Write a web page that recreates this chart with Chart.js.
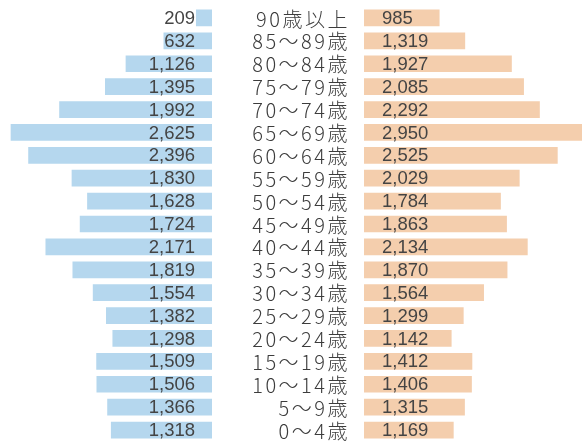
<!DOCTYPE html>
<html lang="ja">
<head>
    <meta charset="UTF-8">
    <title>人口ピラミッド</title>
    <style>
        body{
            margin: 0;
            background-color: #ffffff;
        }
        .wrap{
            position: relative;
            width: 582px;
            height: 444px;
            overflow: hidden;
        }
        #chartL{
            position: absolute;
            left: 0;
            top: 0;
        }
        #chartR{
            position: absolute;
            left: 364px;
            top: 0;
        }
    </style>
</head>
<body>
    <div class="wrap">
        <canvas id="chartL" width="364" height="444" style="width:364px;height:444px"></canvas>
        <canvas id="chartR" width="218" height="444" style="width:218px;height:444px"></canvas>
    </div>

    <script src="https://cdn.jsdelivr.net/npm/chart.js"></script>
    <script>
        // age groups, top to bottom
        const ages = ['90歳以上', '85～89歳', '80～84歳', '75～79歳', '70～74歳', '65～69歳', '60～64歳',
            '55～59歳', '50～54歳', '45～49歳', '40～44歳', '35～39歳', '30～34歳', '25～29歳',
            '20～24歳', '15～19歳', '10～14歳', '5～9歳', '0～4歳'];
        const male = [209, 632, 1126, 1395, 1992, 2625, 2396, 1830, 1628, 1724, 2171, 1819, 1554, 1382, 1298, 1509, 1506, 1366, 1318];
        const female = [985, 1319, 1927, 2085, 2292, 2950, 2525, 2029, 1784, 1863, 2134, 1870, 1564, 1299, 1142, 1412, 1406, 1315, 1169];

        const fmt = v => v.toLocaleString('en-US');

        // value text inside each bar, near the centre gap
        const valueLabels = {
            id: 'valueLabels',
            afterDatasetsDraw(chart, args, opts) {
                const ctx = chart.ctx;
                const meta = chart.getDatasetMeta(0);
                const data = chart.data.datasets[0].data;
                ctx.save();
                ctx.font = '18.5px "Liberation Sans", Arial, sans-serif';
                ctx.fillStyle = '#444444';
                ctx.textBaseline = 'middle';
                ctx.textAlign = opts.side === 'left' ? 'right' : 'left';
                meta.data.forEach((bar, i) => {
                    const x = opts.side === 'left' ? bar.base - 17 : bar.base + 18;
                    ctx.fillText(fmt(data[i]), x, bar.y + 1);
                });
                ctx.restore();
            }
        };

        // age labels in the middle column
        const ageLabels = {
            id: 'ageLabels',
            afterDraw(chart) {
                const ctx = chart.ctx;
                const y = chart.scales.y;
                ctx.save();
                ctx.font = '300 20px "Noto Sans CJK JP", sans-serif';
                ctx.letterSpacing = '2.5px';
                ctx.fillStyle = '#3c3c3c';
                ctx.textAlign = 'right';
                ctx.textBaseline = 'middle';
                ages.forEach((a, i) => {
                    ctx.fillText(a, 350, y.getPixelForValue(i) + 1);
                });
                ctx.restore();
            }
        };

        const common = {
            indexAxis: 'y',
            animation: false,
            responsive: false,
            plugins: {
                legend: { display: false },
                tooltip: { enabled: false }
            }
        };

        const chartL = new Chart(document.getElementById('chartL'), {
            type: 'bar',
            data: {
                labels: ages,
                datasets: [{
                    data: male,
                    backgroundColor: '#b5d7ee',
                    barPercentage: 0.73,
                    categoryPercentage: 1
                }]
            },
            options: {
                ...common,
                layout: { padding: { top: 6.5, bottom: 2.5, left: 0, right: 152 } },
                plugins: { ...common.plugins, valueLabels: { side: 'left' } },
                scales: {
                    x: { display: false, reverse: true, min: 0, max: 2764 },
                    y: { display: false }
                }
            },
            plugins: [valueLabels, ageLabels]
        });

        const chartR = new Chart(document.getElementById('chartR'), {
            type: 'bar',
            data: {
                labels: ages,
                datasets: [{
                    data: female,
                    backgroundColor: '#f4cead',
                    barPercentage: 0.73,
                    categoryPercentage: 1
                }]
            },
            options: {
                ...common,
                layout: { padding: { top: 6.5, bottom: 2.5, left: 0, right: 0 } },
                plugins: { ...common.plugins, valueLabels: { side: 'right' } },
                scales: {
                    x: { display: false, min: 0, max: 2842 },
                    y: { display: false }
                }
            },
            plugins: [valueLabels]
        });
    </script>
</body>
</html>
